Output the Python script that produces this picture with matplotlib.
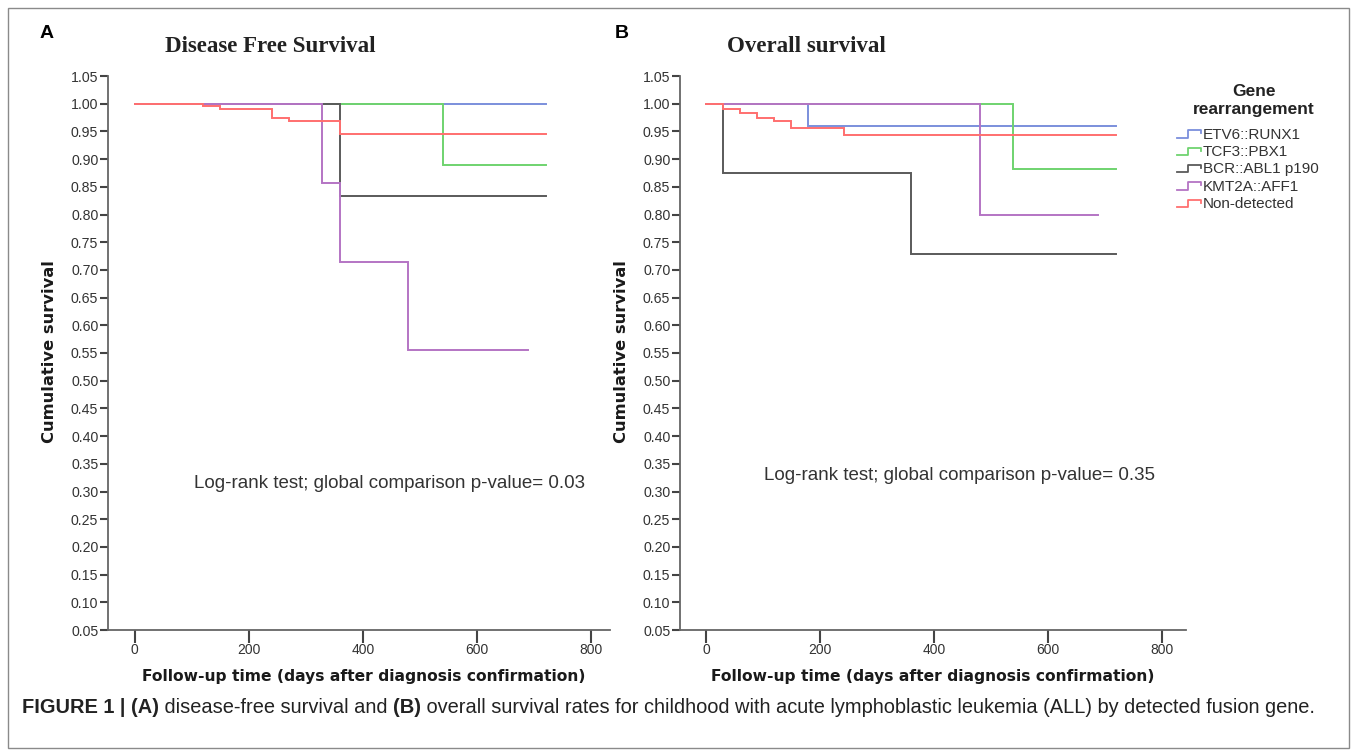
import matplotlib
matplotlib.use("Agg")
import matplotlib.pyplot as plt
from matplotlib.lines import Line2D
from matplotlib.legend_handler import HandlerBase
from matplotlib.patches import Rectangle

# ---------------- data ----------------
groups = ["ETV6::RUNX1", "TCF3::PBX1", "BCR::ABL1 p190", "KMT2A::AFF1", "Non-detected"]
colors = ["#7b8fdc", "#6fd36f", "#5a5a5a", "#b474c4", "#ff6f6f"]
legend_title = "Gene\nrearrangement"

# Panel A: disease-free survival (time in days, cumulative survival)
dfs_t_etv6 = [0, 720]
dfs_s_etv6 = [1.0, 1.0]
dfs_t_tcf3 = [0, 541, 720]
dfs_s_tcf3 = [1.0, 0.889, 0.889]
dfs_t_bcr = [0, 360, 720]
dfs_s_bcr = [1.0, 0.833, 0.833]
dfs_t_kmt2a = [0, 329, 360, 479, 689]
dfs_s_kmt2a = [1.0, 0.857, 0.714, 0.556, 0.556]
dfs_t_nd = [0, 119, 149, 240, 270, 360, 720]
dfs_s_nd = [1.0, 0.995, 0.990, 0.974, 0.969, 0.945, 0.945]

# Panel B: overall survival
os_t_etv6 = [0, 179, 720]
os_s_etv6 = [1.0, 0.959, 0.959]
os_t_tcf3 = [0, 539, 720]
os_s_tcf3 = [1.0, 0.882, 0.882]
os_t_bcr = [0, 29, 359, 719]
os_s_bcr = [1.0, 0.875, 0.729, 0.729]
os_t_kmt2a = [0, 480, 688]
os_s_kmt2a = [1.0, 0.80, 0.80]
os_t_nd = [0, 29, 60, 89, 119, 149, 241, 720]
os_s_nd = [1.0, 0.990, 0.984, 0.975, 0.969, 0.957, 0.944, 0.944]

dfs_series = [(dfs_t_etv6, dfs_s_etv6), (dfs_t_tcf3, dfs_s_tcf3), (dfs_t_bcr, dfs_s_bcr),
              (dfs_t_kmt2a, dfs_s_kmt2a), (dfs_t_nd, dfs_s_nd)]
os_series = [(os_t_etv6, os_s_etv6), (os_t_tcf3, os_s_tcf3), (os_t_bcr, os_s_bcr),
             (os_t_kmt2a, os_s_kmt2a), (os_t_nd, os_s_nd)]

y_ticks = [round(0.05 + 0.05 * i, 2) for i in range(21)]
x_ticks = [0, 200, 400, 600, 800]

titles = ["Disease Free Survival", "Overall survival"]
pvals = ["Log-rank test; global comparison p-value= 0.03",
         "Log-rank test; global comparison p-value= 0.35"]
xlabel = "Follow-up time (days after diagnosis confirmation)"
ylabel = "Cumulative survival"

# ---------------- figure ----------------
W, H = 1357, 754
fig = plt.figure(figsize=(W / 100, H / 100), dpi=100)
fig.patch.set_facecolor("white")

def fx(px):
    return px / W

def fy(py):
    return 1 - py / H

fig.add_artist(Rectangle((fx(8), fy(748)), fx(1349) - fx(8), fy(8) - fy(748),
                         transform=fig.transFigure, fill=False, edgecolor="#8a8a8a", lw=1.0))

axA = fig.add_axes([fx(108), fy(630), fx(610) - fx(108), fy(76) - fy(630)])
axB = fig.add_axes([fx(680), fy(630), fx(1186) - fx(680), fy(76) - fy(630)])

tick_font = "Liberation Sans"
for ax, series, xlim in [(axA, dfs_series, (-47, 833)), (axB, os_series, (-46, 842))]:
    for (t, s), c in zip(series, colors):
        ax.step(t, s, where="post", color=c, lw=1.4, solid_joinstyle="miter")
    ax.set_xlim(*xlim)
    ax.set_ylim(0.05, 1.05)
    ax.set_yticks(y_ticks)
    ax.set_yticklabels([f"{v:.2f}" for v in y_ticks], fontsize=10.2, family=tick_font, color="#333333")
    ax.set_xticks(x_ticks)
    ax.set_xticklabels([str(v) for v in x_ticks], fontsize=10, family=tick_font, color="#333333")
    for sp in ["top", "right"]:
        ax.spines[sp].set_visible(False)
    for sp in ["left", "bottom"]:
        ax.spines[sp].set_color("#666666")
        ax.spines[sp].set_linewidth(1.3)
    ax.tick_params(axis="y", direction="out", length=6, width=1.5, color="#444444", pad=1)
    ax.tick_params(axis="x", direction="out", length=9, width=1.5, color="#444444", pad=0.5)
    ax.patch.set_alpha(0)

# p-value annotations
fig.text(fx(390), fy(484), pvals[0], ha="center", va="center", fontsize=13.5,
         family="Liberation Sans", color="#333333")
fig.text(fx(960), fy(476), pvals[1], ha="center", va="center", fontsize=13.5,
         family="Liberation Sans", color="#333333")

# titles
fig.text(fx(270), fy(47), titles[0], ha="center", va="center", fontsize=16.5,
         family="Liberation Serif", weight="bold", color="#222222")
fig.text(fx(806), fy(47), titles[1], ha="center", va="center", fontsize=16.5,
         family="Liberation Serif", weight="bold", color="#222222")

# panel letters
fig.text(fx(47), fy(33), "A", ha="center", va="center", fontsize=14, weight="bold",
         family="Liberation Sans", color="black")
fig.text(fx(622), fy(33), "B", ha="center", va="center", fontsize=14, weight="bold",
         family="Liberation Sans", color="black")

# axis labels
for cx in (50, 622):
    fig.text(fx(cx), fy(352), ylabel, ha="center", va="center", rotation=90,
             fontsize=11.8, weight="bold", family="DejaVu Sans", color="#1a1a1a")
for cx in (364, 933):
    fig.text(fx(cx), fy(676), xlabel, ha="center", va="center",
             fontsize=11.2, weight="bold", family="DejaVu Sans", color="#1a1a1a")

# legend with step-shaped handles
class StepHandler(HandlerBase):
    def create_artists(self, legend, orig_handle, xdescent, ydescent, width, height, fontsize, trans):
        w, h = width, height
        xs = [-xdescent, -xdescent + 0.45 * w, -xdescent + 0.45 * w, -xdescent + w, -xdescent + w]
        ys = [-ydescent + 0.1 * h, -ydescent + 0.1 * h, -ydescent + 0.8 * h,
              -ydescent + 0.8 * h, -ydescent + 0.5 * h]
        ln = Line2D(xs, ys, color=orig_handle.get_color(), lw=1.3, transform=trans)
        return [ln]

fig.text(fx(1254), fy(100.5), legend_title, ha="center", va="center", fontsize=12.5,
         weight="bold", family="Liberation Sans", color="#222222", linespacing=1.3,
         multialignment="center")

handles = [Line2D([0], [0], color=c) for c in colors]
leg = fig.legend(handles, groups, loc="upper left", bbox_to_anchor=(fx(1163), fy(114)),
                 frameon=False, handler_map={Line2D: StepHandler()},
                 handlelength=1.6, handletextpad=0.1, labelspacing=0.22,
                 prop={"family": "Liberation Sans", "size": 11})
for t in leg.get_texts():
    t.set_color("#333333")

# caption with mixed bold/normal pieces
pieces = [("FIGURE 1 | ", "bold"), ("(A)", "bold"), (" disease-free survival and ", "normal"),
          ("(B)", "bold"),
          (" overall survival rates for childhood with acute lymphoblastic leukemia (ALL) by detected fusion gene.",
           "normal")]
renderer = fig.canvas.get_renderer()
x = 22
for txt, wt in pieces:
    tt = fig.text(fx(x), fy(713), txt, ha="left", va="baseline", fontsize=14.4,
                  family="Liberation Sans", weight=wt, color="#222222")
    bb = tt.get_window_extent(renderer=renderer)
    x += bb.width

fig.savefig("out.png", dpi=100, facecolor="white")
